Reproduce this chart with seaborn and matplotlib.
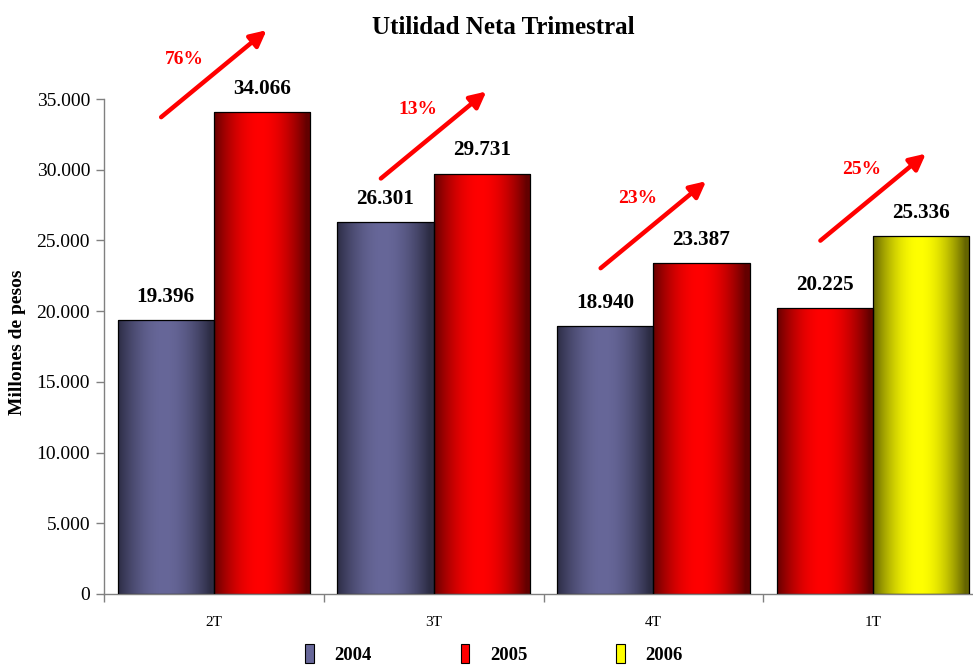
import numpy as np
import pandas as pd
import matplotlib
matplotlib.use("Agg")
import matplotlib.pyplot as plt
import seaborn as sns
from matplotlib.patches import Patch
from matplotlib.colors import to_rgb
from matplotlib.ticker import FuncFormatter

# ---------------- data ----------------
quarters = ["2T", "3T", "4T", "1T"]
left_years = ["2004", "2004", "2004", "2005"]
right_years = ["2005", "2005", "2005", "2006"]
left_values = [19396, 26301, 18940, 20225]
right_values = [34066, 29731, 23387, 25336]
growth_labels = ["76%", "13%", "23%", "25%"]
legend_years = ["2004", "2005", "2006"]
y_ticks = [0, 5000, 10000, 15000, 20000, 25000, 30000, 35000]

# ---------------- style ----------------
year_colors = {
    "2004": ("#676799", "#2c2c44"),
    "2005": ("#ff0000", "#640000"),
    "2006": ("#ffff00", "#646400"),
}

sns.set_theme(style="white")
plt.rcParams["font.family"] = ["Liberation Serif", "DejaVu Serif"]
plt.rcParams["text.color"] = "black"
plt.rcParams["xtick.color"] = "black"
plt.rcParams["ytick.color"] = "black"

rows = []
for q, ly, ry, lv, rv in zip(quarters, left_years, right_years, left_values, right_values):
    rows.append({"quarter": q, "slot": "L", "year": ly, "value": lv})
    rows.append({"quarter": q, "slot": "R", "year": ry, "value": rv})
df = pd.DataFrame(rows)

W, H = 973, 668
fig = plt.figure(figsize=(W / 100, H / 100), dpi=100)
ax = fig.add_axes([104 / W, 74 / H, 879 / W, 495 / H])

sns.barplot(data=df, x="quarter", y="value", hue="slot", order=quarters,
            hue_order=["L", "R"], width=0.875, saturation=1, ax=ax,
            legend=False, errorbar=None)

ax.set_xlim(-0.5, 3.5)
ax.set_ylim(0, 35000)


def gradient(light, dark, n=256):
    t = np.linspace(0, 1, n)
    w = np.sin(np.pi * np.clip(t * 1.05, 0, 1)) ** 0.9
    l = np.array(to_rgb(light))
    d = np.array(to_rgb(dark))
    g = d[None, :] + (l - d)[None, :] * w[:, None]
    return g[None, :, :]


for cont, years in zip(ax.containers, [left_years, right_years]):
    for patch, yr in zip(cont.patches, years):
        x, y0 = patch.get_x(), patch.get_y()
        w, h = patch.get_width(), patch.get_height()
        light, dark = year_colors[yr]
        im = ax.imshow(gradient(light, dark), extent=[x, x + w, y0, y0 + h],
                       aspect="auto", zorder=2, interpolation="bilinear")
        im.set_clip_path(patch)
        patch.set_facecolor("none")
        patch.set_edgecolor("black")
        patch.set_linewidth(0.9)
        patch.set_zorder(3)
        ax.annotate(f"{int(h):,}".replace(",", "."), (x + w / 2, h),
                    xytext=(0, 13), textcoords="offset points",
                    ha="center", va="baseline", fontsize=15.2,
                    fontweight="bold", color="black", annotation_clip=False)

ax.set_xlim(-0.5, 3.5)
ax.set_ylim(0, 35000)

# growth arrows
label_offsets = [(-21, 10), (-11, 18), (-11, 19), (-8, 20)]
for i, (lv, rv, lab) in enumerate(zip(left_values, right_values, growth_labels)):
    start = max(lv, rv) - 350
    end = start + 6150
    ax.annotate("", xy=(i + 0.24, end), xytext=(i - 0.24, start),
                arrowprops=dict(arrowstyle="-|>", color="#ff0000", lw=3.2,
                                mutation_scale=24, shrinkA=0, shrinkB=0),
                annotation_clip=False, zorder=5)
    ax.annotate(lab, (i, (start + end) / 2), xytext=label_offsets[i],
                textcoords="offset points", ha="center", va="center",
                fontsize=14, fontweight="bold", color="#ff0000",
                annotation_clip=False)

# axes styling
ax.set_yticks(y_ticks)
ax.yaxis.set_major_formatter(FuncFormatter(lambda v, p: f"{int(v):,}".replace(",", ".")))
ax.tick_params(axis="y", which="major", direction="out", length=6, width=1,
               color="#808080", labelcolor="black", labelsize=14, pad=4, left=True)
ax.set_xticks([-0.5, 0.5, 1.5, 2.5, 3.5])
ax.set_xticklabels([""] * 5)
ax.set_xticks(range(len(quarters)), minor=True)
ax.set_xticklabels(quarters, minor=True)
ax.tick_params(axis="x", which="major", direction="out", length=6, width=1,
               color="#808080", bottom=True)
ax.tick_params(axis="x", which="minor", length=0, labelsize=11,
               labelcolor="black", pad=16)
ax.set_xlabel("")
ax.set_ylabel("")
for s in ["top", "right"]:
    ax.spines[s].set_visible(False)
for s in ["left", "bottom"]:
    ax.spines[s].set_color("#808080")
    ax.spines[s].set_linewidth(1)
ax.grid(False)

fig.text(503 / W, 1 - 28 / H, "Utilidad Neta Trimestral", ha="center",
         va="center", fontsize=18, fontweight="bold", color="black")
fig.text(18 / W, 1 - 342 / H, "Millones de pesos", rotation=90, ha="center",
         va="center", fontsize=14, fontweight="bold", color="black")

handles = [Patch(facecolor=year_colors[y][0], edgecolor="black", linewidth=0.8)
           for y in legend_years]
fig.legend(handles, legend_years, loc="center", bbox_to_anchor=(494 / W, 14 / H),
           ncol=3, frameon=False, columnspacing=4.75, handlelength=0.45,
           handleheight=1.2, handletextpad=1.1, borderpad=0.1,
           prop={"weight": "bold", "size": 13.5})

fig.savefig("out.png", dpi=100)
